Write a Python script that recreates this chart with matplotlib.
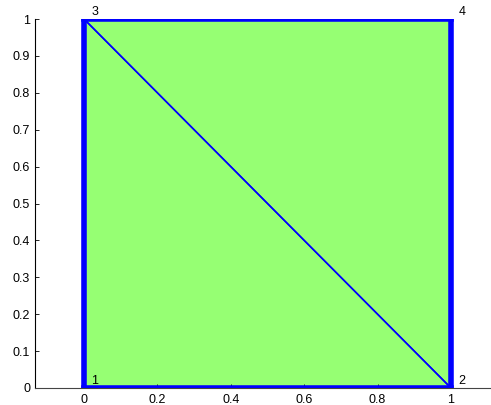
import matplotlib
matplotlib.use("Agg")
import matplotlib.pyplot as plt
import numpy as np

# Mesh data
node_x = [0.0, 1.0, 0.0, 1.0]
node_y = [0.0, 0.0, 1.0, 1.0]
node_labels = ["1", "2", "3", "4"]
triangles = [[0, 1, 2], [1, 3, 2]]
boundary_edges = [[0, 1], [1, 3], [3, 2], [2, 0]]
xticks = [0, 0.2, 0.4, 0.6, 0.8, 1]
yticks = [0, 0.1, 0.2, 0.3, 0.4, 0.5, 0.6, 0.7, 0.8, 0.9, 1]

plt.rcParams['font.family'] = ['Liberation Sans', 'DejaVu Sans']

fig = plt.figure(figsize=(4.91, 4.05), dpi=100)
ax = fig.add_axes([35/491, 17/405, 456/491, 369/405])

nx = np.array(node_x)
ny = np.array(node_y)

# filled elements
for tri in triangles:
    ax.fill(nx[tri], ny[tri], color=(0.59, 1.0, 0.45), lw=0, zorder=1)

# interior mesh edges
for tri in triangles:
    idx = tri + [tri[0]]
    ax.plot(nx[idx], ny[idx], color=(0, 0, 1), lw=1.1, zorder=2)

# boundary edges
for e in boundary_edges:
    ax.plot(nx[e], ny[e], color=(0, 0, 1), lw=4.0, zorder=3, solid_capstyle='projecting')

# node labels
for xv, yv, lab in zip(node_x, node_y, node_labels):
    ax.text(xv + 0.02, yv + 0.004, lab, fontsize=9, ha='left', va='bottom', zorder=4, clip_on=False)

ax.set_xlim(-0.1335, 1.109)
ax.set_ylim(0, 1)
ax.set_xticks(xticks)
ax.set_xticklabels([f"{v:g}" for v in xticks])
ax.set_yticks(yticks)
ax.set_yticklabels([f"{v:g}" for v in yticks])
ax.tick_params(direction='in', length=3, width=0.6, labelsize=9)
ax.tick_params(axis='y', pad=3.5)
ax.tick_params(axis='x', pad=4)
ax.spines['top'].set_visible(False)
ax.spines['right'].set_visible(False)
ax.spines['left'].set_linewidth(0.8)
ax.spines['bottom'].set_linewidth(0.8)
ax.spines['bottom'].set_color('#444444')
ax.patch.set_alpha(0)

fig.savefig("out.png", dpi=100)
